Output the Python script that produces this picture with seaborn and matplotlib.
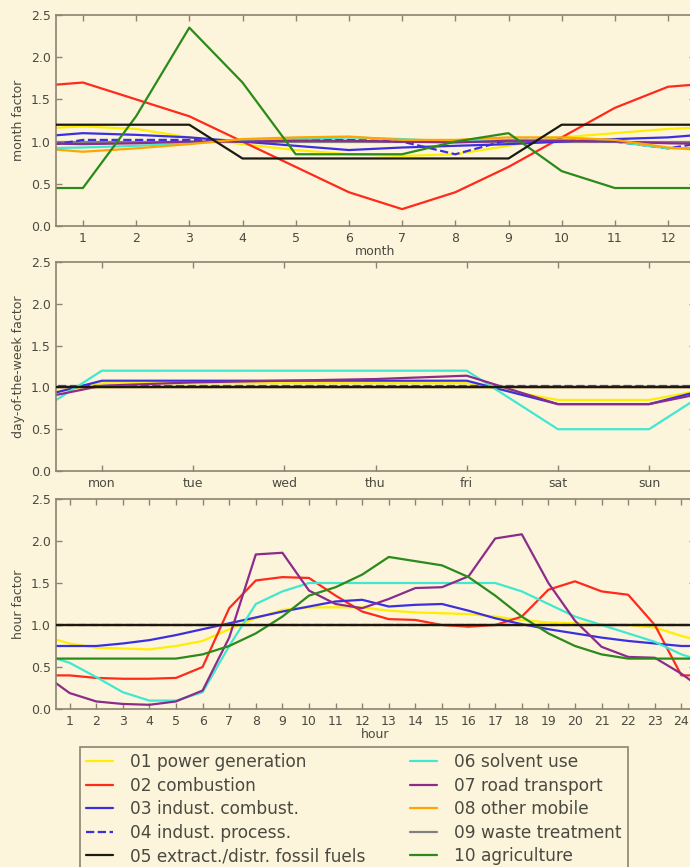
import numpy as np
import matplotlib
matplotlib.use("Agg")
import matplotlib.pyplot as plt
import seaborn as sns

BG = "#fdf4dc"
EDGE = "#8c8470"
TEXT = "#4a4a40"

SECTORS = [
    "01 power generation",
    "02 combustion",
    "03 indust. combust.",
    "04 indust. process.",
    "05 extract./distr. fossil fuels",
    "06 solvent use",
    "07 road transport",
    "08 other mobile",
    "09 waste treatment",
    "10 agriculture",
]
COLORS = ["#ffee00", "#ff2a1a", "#3a30e0", "#3a30e0", "#1a1a10",
          "#40e8d0", "#8b2c8b", "#ffa500", "#808080", "#2a8a1a"]
STYLES = ["-", "-", "-", "--", "-", "-", "-", "-", "-", "-"]

MONTHS = [str(m) for m in range(1, 13)]
MONTH_FACTORS = [
    [1.18, 1.15, 1.05, 0.97, 0.90, 0.85, 0.83, 0.85, 0.95, 1.05, 1.10, 1.15],
    [1.70, 1.50, 1.30, 1.00, 0.70, 0.40, 0.20, 0.40, 0.70, 1.05, 1.40, 1.65],
    [1.10, 1.08, 1.05, 1.00, 0.95, 0.90, 0.93, 0.95, 0.97, 1.00, 1.03, 1.05],
    [1.02, 1.02, 1.02, 1.00, 1.02, 1.02, 1.00, 0.85, 1.02, 1.02, 1.00, 0.92],
    [1.20, 1.20, 1.20, 0.80, 0.80, 0.80, 0.80, 0.80, 0.80, 1.20, 1.20, 1.20],
    [0.93, 0.95, 0.98, 1.02, 1.03, 1.05, 1.03, 1.00, 1.02, 1.02, 1.00, 0.92],
    [0.97, 0.98, 1.00, 1.00, 1.01, 1.01, 1.00, 0.99, 1.01, 1.01, 1.00, 0.98],
    [0.88, 0.92, 0.97, 1.03, 1.05, 1.06, 1.02, 1.02, 1.05, 1.05, 1.02, 0.93],
    [1.00, 1.00, 1.00, 1.00, 1.00, 1.00, 1.00, 1.00, 1.00, 1.00, 1.00, 1.00],
    [0.45, 1.30, 2.35, 1.70, 0.85, 0.85, 0.85, 1.00, 1.10, 0.65, 0.45, 0.45],
]

WEEKDAYS = ["mon", "tue", "wed", "thu", "fri", "sat", "sun"]
WEEK_FACTORS = [
    [1.05, 1.05, 1.05, 1.05, 1.05, 0.85, 0.85],
    [1.00, 1.00, 1.00, 1.00, 1.00, 1.00, 1.00],
    [1.08, 1.08, 1.08, 1.08, 1.08, 0.80, 0.80],
    [1.02, 1.02, 1.02, 1.02, 1.02, 1.02, 1.02],
    [1.00, 1.00, 1.00, 1.00, 1.00, 1.00, 1.00],
    [1.20, 1.20, 1.20, 1.20, 1.20, 0.50, 0.50],
    [1.02, 1.06, 1.08, 1.10, 1.14, 0.80, 0.80],
    [1.00, 1.00, 1.00, 1.00, 1.00, 1.00, 1.00],
    [1.00, 1.00, 1.00, 1.00, 1.00, 1.00, 1.00],
    [1.00, 1.00, 1.00, 1.00, 1.00, 1.00, 1.00],
]

HOURS = [str(h) for h in range(1, 25)]
HOUR_FACTORS = [
    [0.78, 0.73, 0.72, 0.71, 0.75, 0.81, 0.95, 1.08, 1.18, 1.21, 1.21, 1.21,
     1.17, 1.15, 1.14, 1.13, 1.10, 1.06, 1.03, 1.02, 1.01, 1.00, 0.97, 0.87],
    [0.40, 0.37, 0.36, 0.36, 0.37, 0.50, 1.20, 1.53, 1.57, 1.56, 1.35, 1.16,
     1.07, 1.06, 1.00, 0.98, 1.00, 1.10, 1.42, 1.52, 1.40, 1.36, 1.00, 0.40],
    [0.75, 0.75, 0.78, 0.82, 0.88, 0.95, 1.02, 1.09, 1.16, 1.22, 1.28, 1.30,
     1.22, 1.24, 1.25, 1.17, 1.08, 1.01, 0.95, 0.90, 0.85, 0.81, 0.78, 0.75],
    [1.00] * 24,
    [1.00] * 24,
    [0.55, 0.38, 0.20, 0.10, 0.10, 0.20, 0.75, 1.25, 1.40, 1.50, 1.50, 1.50,
     1.50, 1.50, 1.50, 1.50, 1.50, 1.40, 1.25, 1.10, 1.00, 0.90, 0.80, 0.65],
    [0.19, 0.09, 0.06, 0.05, 0.09, 0.22, 0.85, 1.84, 1.86, 1.41, 1.25, 1.20,
     1.31, 1.44, 1.45, 1.58, 2.03, 2.08, 1.50, 1.05, 0.74, 0.62, 0.61, 0.42],
    [1.00] * 24,
    [1.00] * 24,
    [0.60, 0.60, 0.60, 0.60, 0.60, 0.65, 0.75, 0.90, 1.10, 1.35, 1.45, 1.60,
     1.81, 1.76, 1.71, 1.57, 1.35, 1.10, 0.90, 0.75, 0.65, 0.60, 0.60, 0.60],
]


def cyclic(values):
    """Add the neighbouring period at both ends so lines run to the edges."""
    x = np.arange(0, len(values) + 2)
    y = [values[-1]] + list(values) + [values[0]]
    return x, y


def draw_panel(ax, profiles, ticklabels, ylabel, xlabel=None):
    for i, vals in enumerate(profiles):
        x, y = cyclic(vals)
        z = 2 + i * 0.01
        if SECTORS[i].startswith("05"):
            z = 3
        elif SECTORS[i].startswith("09"):
            z = 1.9
        sns.lineplot(x=x, y=y, ax=ax, color=COLORS[i], linestyle=STYLES[i],
                     linewidth=1.6, label=SECTORS[i], legend=False, zorder=z)
    n = len(ticklabels)
    ax.set_xlim(0.5, n + 0.5)
    ax.set_ylim(0, 2.5)
    ax.set_xticks(range(1, n + 1))
    ax.set_xticklabels(ticklabels)
    ax.set_yticks([0.0, 0.5, 1.0, 1.5, 2.0, 2.5])
    ax.set_yticklabels(["0.0", "0.5", "1.0", "1.5", "2.0", "2.5"])
    ax.set_ylabel(ylabel, fontsize=9, color=TEXT, labelpad=4)
    ax.set_xlabel(xlabel if xlabel else "", fontsize=9, color=TEXT, labelpad=0)
    ax.set_facecolor(BG)
    ax.tick_params(direction="in", length=4, width=1, colors=EDGE,
                   labelcolor=TEXT, labelsize=9, top=True, right=True, pad=4)
    for sp in ax.spines.values():
        sp.set_color(EDGE)
        sp.set_linewidth(1.2)


sns.set_style("ticks")
plt.rcParams["font.family"] = ["DejaVu Sans"]

fig = plt.figure(figsize=(6.9, 8.67), dpi=100, facecolor=BG)
W, H = 690.0, 867.0
left = 56.3 / W
width = 638.4 / W

ax1 = fig.add_axes([left, 1 - 226 / H, width, 211 / H])
ax2 = fig.add_axes([left, 1 - 471 / H, width, 209 / H])
ax3 = fig.add_axes([left, 1 - 709 / H, width, 210 / H])

draw_panel(ax1, MONTH_FACTORS, MONTHS, "month factor", "month")
draw_panel(ax2, WEEK_FACTORS, WEEKDAYS, "day-of-the-week factor")
draw_panel(ax3, HOUR_FACTORS, HOURS, "hour factor", "hour")

handles, labels = ax1.get_legend_handles_labels()
leg = fig.legend(handles, labels, loc="upper left",
                 bbox_to_anchor=(80 / W, 1 - 747 / H), ncol=2,
                 fontsize=12.25, frameon=True, fancybox=False,
                 handlelength=1.6, handletextpad=1.0, columnspacing=2.6,
                 labelspacing=0.33, borderpad=0.35, borderaxespad=0)
leg.get_frame().set_facecolor(BG)
leg.get_frame().set_edgecolor(EDGE)
leg.get_frame().set_linewidth(1.2)
leg.get_frame().set_alpha(1)
for t in leg.get_texts():
    t.set_color(TEXT)

fig.savefig("out.png", dpi=100, facecolor=BG)
